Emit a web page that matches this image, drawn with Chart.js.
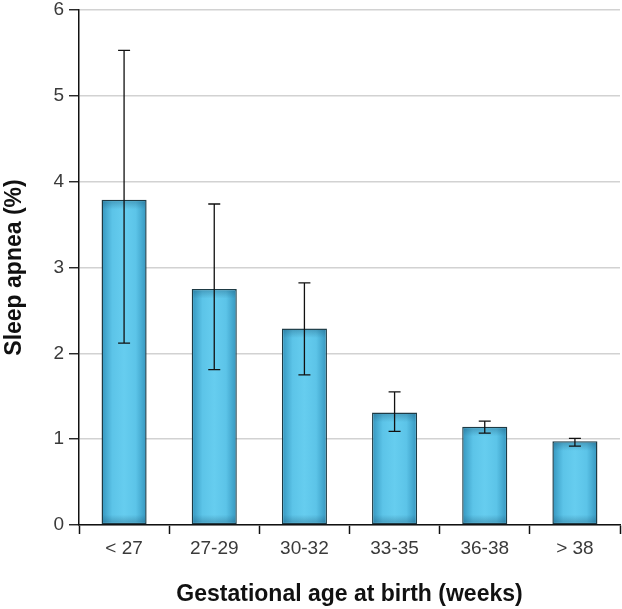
<!DOCTYPE html>
<html><head><meta charset="utf-8">
<script src="https://cdn.jsdelivr.net/npm/chart.js@4.4.0/dist/chart.umd.min.js"></script>
<style>html,body{margin:0;padding:0;background:#fff}#wrap{width:622px;height:609px}</style>
</head><body><div id="wrap"><canvas id="c" width="622" height="609"></canvas></div>
<script>
const categories = ['< 27', '27-29', '30-32', '33-35', '36-38', '> 38'];
const apneaPct = [3.79, 2.75, 2.29, 1.31, 1.145, 0.975];
const ciLower = [2.12, 1.81, 1.75, 1.09, 1.07, 0.92];
const ciUpper = [5.53, 3.74, 2.82, 1.55, 1.21, 1.01];
const yTicks = [0, 1, 2, 3, 4, 5, 6];
const xTitle = 'Gestational age at birth (weeks)';
const yTitle = 'Sleep apnea (%)';

const FONT = '"Liberation Sans", Arial, Helvetica, sans-serif';

const barShade = {
  id: 'barShade',
  afterDatasetsDraw(chart) {
    const ctx = chart.ctx;
    const meta = chart.getDatasetMeta(0);
    const bw = 1.5;
    ctx.save();
    meta.data.forEach(el => {
      const p = el.getProps(['x', 'y', 'base', 'width'], true);
      const l = p.x - p.width / 2 + bw, r = p.x + p.width / 2 - bw;
      const t = Math.min(p.y, p.base) + bw, b = Math.max(p.y, p.base) - bw;
      const g = ctx.createLinearGradient(l, 0, r, 0);
      g.addColorStop(0, '#3a9cc4');
      g.addColorStop(0.22, '#5cc4e8');
      g.addColorStop(0.5, '#66cdef');
      g.addColorStop(0.78, '#5cc4e8');
      g.addColorStop(1, '#3a9cc4');
      ctx.fillStyle = g;
      ctx.fillRect(l, t, r - l, b - t);
      const gv = ctx.createLinearGradient(0, t, 0, b);
      gv.addColorStop(0, 'rgba(20,70,100,0.30)');
      gv.addColorStop(Math.min(0.5, 8 / Math.max(1, b - t)), 'rgba(20,70,100,0)');
      gv.addColorStop(Math.max(0.5, 1 - 8 / Math.max(1, b - t)), 'rgba(20,70,100,0)');
      gv.addColorStop(1, 'rgba(20,70,100,0.30)');
      ctx.fillStyle = gv;
      ctx.fillRect(l, t, r - l, b - t);
    });
    // error bars
    const ys = chart.scales.y;
    ctx.strokeStyle = '#111';
    ctx.lineWidth = 1.3;
    meta.data.forEach((el, i) => {
      const x = el.x;
      const yt = ys.getPixelForValue(ciUpper[i]);
      const yb = ys.getPixelForValue(ciLower[i]);
      const cap = 6;
      ctx.beginPath();
      ctx.moveTo(x, yt); ctx.lineTo(x, yb);
      ctx.moveTo(x - cap, yt); ctx.lineTo(x + cap, yt);
      ctx.moveTo(x - cap, yb); ctx.lineTo(x + cap, yb);
      ctx.stroke();
    });
    ctx.restore();
  }
};

new Chart(document.getElementById('c'), {
  type: 'bar',
  data: {
    labels: categories,
    datasets: [{
      data: apneaPct,
      backgroundColor: '#5fc6ea',
      borderColor: '#1e3a44',
      borderWidth: 1.5,
      borderSkipped: false,
      categoryPercentage: 1.0,
      barPercentage: 0.5
    }]
  },
  options: {
    responsive: false,
    devicePixelRatio: 1,
    animation: false,
    layout: { padding: { left: 0, right: 2, top: 0, bottom: 0 } },
    plugins: { legend: { display: false }, tooltip: { enabled: false } },
    scales: {
      x: {
        grid: { display: true, drawOnChartArea: false, drawTicks: true, tickLength: 9, tickColor: '#111', tickWidth: 1.5, offset: true },
        border: { display: true, color: '#111', width: 1.5 },
        ticks: { color: '#3a3a3a', font: { family: FONT, size: 19 }, padding: 3, maxRotation: 0 },
        title: { display: true, text: xTitle, color: '#111', font: { family: FONT, size: 23, weight: 'bold' }, padding: { top: 0, bottom: 1 } },
        afterFit(scale) { scale.height = 84; }
      },
      y: {
        min: 0, max: 6,
        afterBuildTicks(scale) { scale.ticks = yTicks.map(v => ({ value: v })); },
        grid: { color: '#d2d2d2', lineWidth: 1.5, tickColor: '#111', tickLength: 10, tickWidth: 1.3 },
        border: { display: true, color: '#111', width: 1.5 },
        ticks: { color: '#3a3a3a', font: { family: FONT, size: 19, lineHeight: 1.0 }, padding: 5 },
        title: { display: true, text: yTitle, color: '#111', font: { family: FONT, size: 23, weight: 'bold' }, padding: { top: 1, bottom: 0 } },
        afterFit(scale) { scale.width = 79; scale.paddingTop = 10; }
      }
    }
  },
  plugins: [barShade]
});
</script>
</body></html>
